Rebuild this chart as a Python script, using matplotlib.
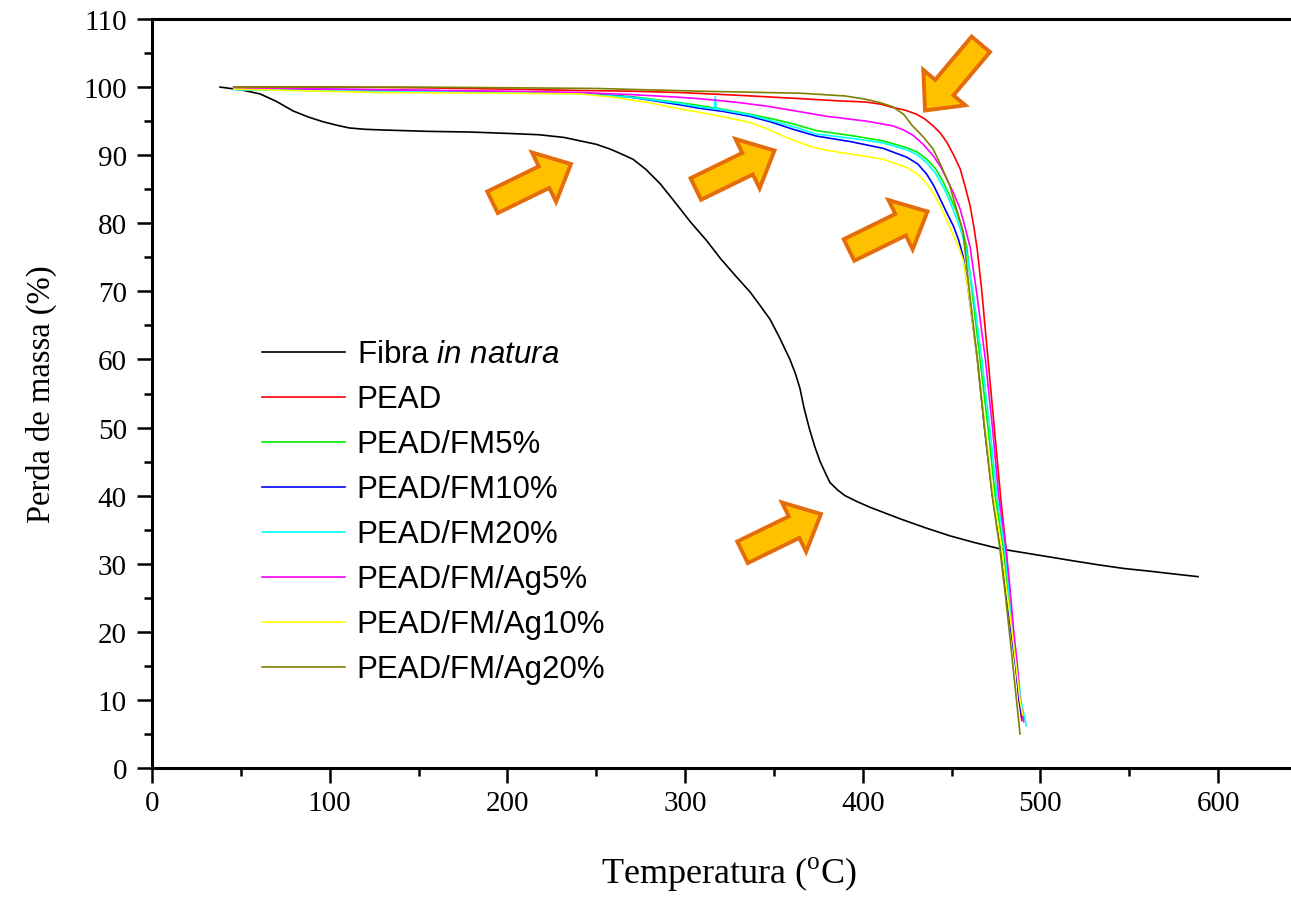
import matplotlib
matplotlib.use("Agg")
import matplotlib.pyplot as plt
from matplotlib.patches import Polygon
from matplotlib.ticker import MultipleLocator
import numpy as np

plt.rcParams['mathtext.fontset'] = 'custom'
plt.rcParams['mathtext.rm'] = 'Liberation Serif'
plt.rcParams['mathtext.it'] = 'Liberation Sans:italic'

# ---------------- data ----------------
fibra_x = [38.3, 50, 60.8, 70, 79.4, 88, 96.4, 104, 111, 120, 130, 155, 179, 200, 218, 232, 241, 250,
           257.8, 264, 270.7, 278, 286, 294, 303, 312, 320, 328, 336.6, 342, 347.8, 353, 359, 362,
           364.7, 367, 370, 373, 376, 379, 381.6, 386, 390, 397, 404, 412, 421, 435, 449, 463, 477,
           491, 505, 519, 533.6, 547, 561.7, 575, 588.7]
fibra_y = [100.0, 99.6, 99.0, 97.9, 96.5, 95.6, 94.9, 94.4, 94.0, 93.8, 93.7, 93.5, 93.4, 93.2, 93.0,
           92.6, 92.1, 91.6, 90.9, 90.2, 89.4, 87.9, 85.8, 83.2, 80.2, 77.5, 74.8, 72.4, 69.9, 68.0,
           65.9, 63.3, 60.0, 58.0, 55.7, 52.8, 49.8, 47.2, 45.0, 43.3, 41.9, 40.8, 40.0, 39.1, 38.3,
           37.5, 36.6, 35.3, 34.1, 33.1, 32.2, 31.6, 31.0, 30.4, 29.8, 29.3, 28.9, 28.5, 28.1]

pead_x = [46, 100, 150, 200, 241, 270, 297, 330, 365, 385, 402, 410, 417, 424, 430.4, 435, 439.6, 443.5,
          447.3, 451, 454.8, 457.5, 460.4, 462.5, 464.5, 467, 470.5, 474, 477.5, 480.5, 482.5, 484.5,
          486.3, 488, 489.5]
pead_y = [100.0, 100.0, 99.9, 99.7, 99.5, 99.4, 99.2, 98.8, 98.3, 98.0, 97.8, 97.5, 97.0, 96.6, 96.0,
          95.3, 94.3, 93.3, 91.9, 90.1, 88.0, 85.5, 82.6, 79.5, 76.0, 70.0, 60.0, 50.0, 40.0, 32.5,
          26.0, 20.0, 15.0, 10.0, 7.0]

fm5_x = [46, 128, 200, 241, 270, 297, 308, 322, 336.6, 348, 360.8, 374, 393, 411.5, 424.8, 431, 436,
         441, 445.4, 449, 453, 456, 458.5, 461.5, 466, 470.5, 474.5, 479, 481.5, 484, 486.3, 488.5, 490]
fm5_y = [99.8, 99.5, 99.3, 99.1, 98.6, 97.7, 97.3, 96.7, 96.0, 95.4, 94.6, 93.6, 92.9, 92.1, 91.1, 90.4,
         89.4, 88.0, 86.0, 84.0, 81.6, 79.2, 76.5, 70.0, 60.0, 50.0, 40.0, 32.5, 26.0, 20.0, 15.0,
         10.0, 7.2]

fm10_x = [46, 128, 200, 241, 270, 297, 308, 322, 336.6, 348, 360.8, 374, 393, 411.5, 424.8, 431, 436,
          440, 443.5, 447, 451, 454, 456.6, 459.5, 464.5, 468.5, 473, 477.5, 480.5, 483.5, 486, 488,
          489.5]
fm10_y = [99.8, 99.6, 99.3, 99.1, 98.5, 97.4, 96.9, 96.4, 95.7, 94.9, 93.8, 92.8, 92.0, 91.0, 89.7, 88.7,
          87.2, 85.5, 83.6, 81.7, 79.6, 77.5, 75.0, 70.0, 60.0, 50.0, 40.0, 32.5, 26.0, 20.0, 15.0,
          10.0, 7.5]

fm20_x = [46, 128, 200, 241, 270, 297, 308, 316.5, 317, 317.5, 336.6, 348, 360.8, 374, 393, 411.5,
          424.8, 431, 436, 441, 445.4, 449, 453, 456, 458.5, 462, 467, 471.5, 475.5, 479.8, 482.3, 484.7,
          487, 489, 492]
fm20_y = [99.6, 99.4, 99.2, 99.0, 98.5, 97.6, 97.1, 96.8, 98.6, 96.8, 95.9, 95.1, 94.2, 93.1, 92.5,
          91.8, 90.8, 90.0, 88.9, 87.3, 85.3, 83.2, 80.6, 78.3, 75.5, 70.0, 60.0, 50.0, 40.0, 32.5,
          26.0, 20.0, 15.0, 10.0, 6.2]

ag5_x = [46, 128, 200, 241, 270, 297, 308, 328, 346, 362, 380, 402, 417, 423, 428.4, 434, 439.7, 444,
         447.3, 451, 454.8, 457.5, 460.4, 464, 469, 473, 476.5, 480.5, 483, 485, 487, 488.5, 490.5]
ag5_y = [99.9, 99.6, 99.4, 99.2, 98.9, 98.5, 98.3, 97.8, 97.2, 96.5, 95.7, 95.0, 94.3, 93.7, 92.9, 91.6,
         89.9, 88.2, 86.5, 84.5, 82.1, 79.5, 76.5, 70.0, 60.0, 50.0, 40.0, 32.5, 26.0, 20.0, 15.0,
         10.0, 6.8]

ag10_x = [46, 128, 200, 241, 260, 280, 297, 308, 322, 336.6, 346, 355.3, 363, 370.3, 378, 387.2, 400,
          411.6, 424.8, 431, 436, 440, 443.5, 447, 451, 454, 456.6, 459.5, 464.5, 468.8, 473.3, 478,
          481, 484, 486.3, 488.5, 490]
ag10_y = [99.7, 99.2, 99.1, 99.0, 98.5, 97.7, 96.8, 96.3, 95.6, 94.8, 93.9, 92.8, 92.0, 91.3, 90.8,
          90.4, 89.9, 89.4, 88.2, 87.2, 85.8, 84.3, 82.6, 80.6, 78.2, 76.5, 74.5, 70.0, 60.0, 50.0,
          40.0, 32.5, 26.0, 20.0, 15.0, 10.0, 7.8]

ag20_x = [46, 100, 150, 200, 250, 308, 365, 390, 402, 410, 417, 423, 428, 434, 439.6, 444, 449, 452.5,
          456.5, 460, 464.5, 468.5, 472.8, 477, 480, 482.5, 484.5, 486.5, 488.5]
ag20_y = [100.0, 100.0, 100.0, 99.9, 99.8, 99.4, 99.1, 98.7, 98.2, 97.7, 97.1, 96.0, 94.3, 92.7, 90.9,
          88.5, 85.5, 82.3, 78.7, 70.0, 60.0, 50.0, 40.0, 32.5, 26.0, 20.0, 15.0, 10.0, 5.0]

series = [
    (fibra_x, fibra_y, 'Fibra $in\\ natura$', '#000000'),
    (pead_x, pead_y, 'PEAD', '#FF0000'),
    (fm5_x, fm5_y, 'PEAD/FM5%', '#00EE00'),
    (fm10_x, fm10_y, 'PEAD/FM10%', '#0000FF'),
    (fm20_x, fm20_y, 'PEAD/FM20%', '#00FFFF'),
    (ag5_x, ag5_y, 'PEAD/FM/Ag5%', '#FF00FF'),
    (ag10_x, ag10_y, 'PEAD/FM/Ag10%', '#FFFF00'),
    (ag20_x, ag20_y, 'PEAD/FM/Ag20%', '#808000'),
]

x_ticks = [0, 100, 200, 300, 400, 500, 600]
y_ticks = [0, 10, 20, 30, 40, 50, 60, 70, 80, 90, 100, 110]

# ---------------- figure ----------------
W, H = 1291, 903
fig = plt.figure(figsize=(W / 100, H / 100), dpi=100)
ax = fig.add_axes([152 / W, 134 / H, 1139 / W, 749 / H])

for xs, ys, lab, col in series:
    ax.plot(xs, ys, color=col, lw=1.2, label=lab)

ax.set_xlim(0, 641)
ax.set_ylim(0, 110)
ax.set_xticks(x_ticks)
ax.set_yticks(y_ticks)
ax.xaxis.set_minor_locator(MultipleLocator(50))
ax.yaxis.set_minor_locator(MultipleLocator(5))
ax.tick_params(which='major', direction='out', length=11, width=1.8, labelsize=21, pad=5)
ax.tick_params(which='minor', direction='out', length=6, width=1.8)
ax.tick_params(axis='y', which='major', pad=7)
for lab in ax.get_xticklabels() + ax.get_yticklabels():
    lab.set_fontfamily('Liberation Serif')

ax.spines['right'].set_visible(False)
for s in ['left', 'bottom', 'top']:
    ax.spines[s].set_linewidth(2.2)

ax.set_xlabel('Temperatura ($^{\\mathrm{o}}$C)', fontsize=26, family='Liberation Serif')
ax.set_ylabel('Perda de massa (%)', fontsize=23.5, family='Liberation Serif')
ax.xaxis.set_label_coords((729.5 - 152) / 1139, (769 - 855) / 749)
ax.yaxis.set_label_coords((57 - 152) / 1139, 0.5)

leg = ax.legend(loc='upper left', bbox_to_anchor=(262 / W, 1 - 340.5 / H),
                bbox_transform=fig.transFigure, frameon=False, borderpad=0,
                borderaxespad=0, handlelength=2.65, handletextpad=0.38,
                labelspacing=0.48, prop={'family': 'Liberation Sans', 'size': 22.5})


# ---------------- block arrows (annotations) ----------------
def block_arrow(tail, tip, shaft_w=24, head_w=55, head_len=30):
    tx, ty = tail
    hx, hy = tip
    d = np.array([hx - tx, hy - ty], float)
    L = np.hypot(*d)
    u = d / L
    n = np.array([-u[1], u[0]])
    t = np.array([tx, ty], float)
    b = t + u * (L - head_len)
    pts = [t + n * shaft_w / 2, b + n * shaft_w / 2, b + n * head_w / 2, np.array([hx, hy]),
           b - n * head_w / 2, b - n * shaft_w / 2, t - n * shaft_w / 2]
    return [(p[0] / W, 1 - p[1] / H) for p in pts]


arrows = [((492.5, 203.3), (571, 165)),
          ((695.8, 190), (774.5, 151.5)),
          ((980.8, 45.3), (925, 111.5)),
          ((849, 251), (927.5, 212.5)),
          ((742.5, 553.3), (821, 515))]
for tail, tip in arrows:
    poly = Polygon(block_arrow(tail, tip), closed=True, transform=fig.transFigure,
                   facecolor='#FFC000', edgecolor='#E46C0A', lw=2.8, joinstyle='miter', zorder=5)
    fig.patches.append(poly)

fig.savefig('out.png', dpi=100)
